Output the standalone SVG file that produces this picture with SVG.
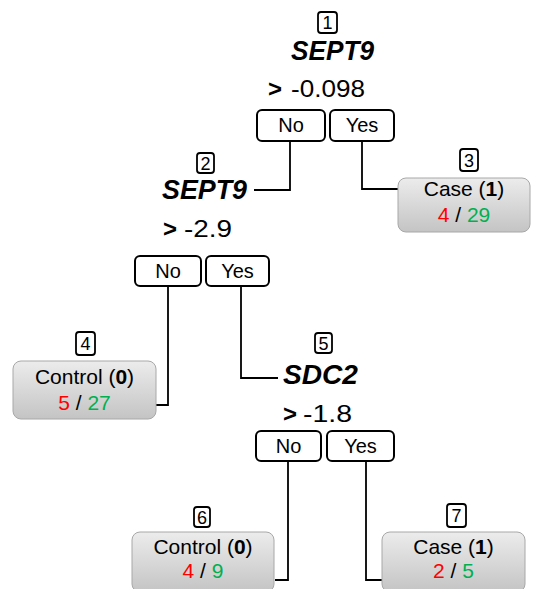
<svg xmlns="http://www.w3.org/2000/svg" width="534" height="589" viewBox="0 0 534 589">
<defs>
<linearGradient id="leafGrad" x1="0" y1="0" x2="0" y2="1">
<stop offset="0" stop-color="#ececec"/>
<stop offset="1" stop-color="#c4c4c4"/>
</linearGradient>
<style>
text{font-family:"Liberation Sans",Arial,sans-serif;fill:#000;}
.num{font-size:18px;text-anchor:middle;}
.numbox{fill:#fff;stroke:#000;stroke-width:1.8;}
.gene{font-size:28px;font-weight:bold;font-style:italic;}
.thr{font-size:24px;}
.gt{font-weight:bold;}
.btn{fill:#fff;stroke:#000;stroke-width:2;}
.btxt{font-size:20px;text-anchor:middle;}
.leaf{fill:url(#leafGrad);stroke:#a8a8a8;stroke-width:1;}
.ltxt{font-size:21px;text-anchor:middle;}
.red{fill:#ff0000;}
.green{fill:#00b050;}
.conn{fill:none;stroke:#000;stroke-width:1.8;}
</style>
</defs>
<rect width="534" height="589" fill="#fff"/>

<g id="connectors">
<path class="conn" d="M290,141 V190 H254"/>
<path class="conn" d="M362,141 V189 H398"/>
<path class="conn" d="M168,286 V405 H156"/>
<path class="conn" d="M241,286 V378 H278"/>
<path class="conn" d="M288,461 V580 H275"/>
<path class="conn" d="M366,461 V580 H382"/>
</g>

<g id="node1">
<rect class="numbox" x="318" y="12" width="19" height="21" rx="3"/>
<text class="num" x="327.5" y="29">1</text>
<text class="gene" x="291" y="60" textLength="83" lengthAdjust="spacingAndGlyphs">SEPT9</text>
<text class="thr" y="97"><tspan class="gt" x="268">&gt;</tspan><tspan x="291" textLength="74" lengthAdjust="spacingAndGlyphs">-0.098</tspan></text>
<rect class="btn" x="257" y="110" width="68" height="31" rx="5"/>
<text class="btxt" x="291" y="132">No</text>
<rect class="btn" x="330" y="110" width="64" height="31" rx="5"/>
<text class="btxt" x="362" y="132">Yes</text>
</g>

<g id="node2">
<rect class="numbox" x="197" y="153" width="17" height="20" rx="3"/>
<text class="num" x="205.5" y="169.5">2</text>
<text class="gene" x="162" y="199" textLength="85" lengthAdjust="spacingAndGlyphs">SEPT9</text>
<text class="thr" y="237"><tspan class="gt" x="163">&gt;</tspan><tspan x="184" textLength="48" lengthAdjust="spacingAndGlyphs">-2.9</tspan></text>
<rect class="btn" x="135" y="256" width="66" height="30" rx="5"/>
<text class="btxt" x="168" y="278">No</text>
<rect class="btn" x="206" y="256" width="63" height="30" rx="5"/>
<text class="btxt" x="237.5" y="278">Yes</text>
</g>

<g id="node3">
<rect class="numbox" x="460" y="149" width="18" height="22" rx="3" stroke-width="2.4"/>
<text class="num" x="469" y="166.5">3</text>
<rect class="leaf" x="398" y="178" width="132" height="54" rx="8"/>
<text class="ltxt" x="464" y="196">Case (<tspan font-weight="bold">1</tspan>)</text>
<text class="ltxt" x="464" y="222"><tspan class="red">4</tspan> / <tspan class="green">29</tspan></text>
</g>

<g id="node4">
<rect class="numbox" x="76" y="332" width="19" height="23" rx="3" stroke-width="2.4"/>
<text class="num" x="85.5" y="350">4</text>
<rect class="leaf" x="13" y="361" width="143" height="58" rx="8"/>
<text class="ltxt" x="84.5" y="384">Control (<tspan font-weight="bold">0</tspan>)</text>
<text class="ltxt" x="84.5" y="410"><tspan class="red">5</tspan> / <tspan class="green">27</tspan></text>
</g>

<g id="node5">
<rect class="numbox" x="315" y="333" width="17" height="20" rx="3"/>
<text class="num" x="323.5" y="349.5">5</text>
<text class="gene" x="283" y="384" textLength="75" lengthAdjust="spacingAndGlyphs">SDC2</text>
<text class="thr" y="422"><tspan class="gt" x="283">&gt;</tspan><tspan x="303" textLength="49" lengthAdjust="spacingAndGlyphs">-1.8</tspan></text>
<rect class="btn" x="256" y="431" width="65" height="30" rx="5"/>
<text class="btxt" x="288.5" y="453">No</text>
<rect class="btn" x="327" y="431" width="67" height="30" rx="5"/>
<text class="btxt" x="360.5" y="453">Yes</text>
</g>

<g id="node6">
<rect class="numbox" x="194" y="507" width="16" height="20" rx="3" stroke-width="2.4"/>
<text class="num" x="202" y="523.5">6</text>
<rect class="leaf" x="132" y="532" width="142" height="60" rx="8"/>
<text class="ltxt" x="203" y="554">Control (<tspan font-weight="bold">0</tspan>)</text>
<text class="ltxt" x="203" y="578"><tspan class="red">4</tspan> / <tspan class="green">9</tspan></text>
</g>

<g id="node7">
<rect class="numbox" x="447" y="504" width="19" height="23" rx="3" stroke-width="2.4"/>
<text class="num" x="456.5" y="522">7</text>
<rect class="leaf" x="382" y="532" width="143" height="60" rx="8"/>
<text class="ltxt" x="453.5" y="554">Case (<tspan font-weight="bold">1</tspan>)</text>
<text class="ltxt" x="453.5" y="578"><tspan class="red">2</tspan> / <tspan class="green">5</tspan></text>
</g>
</svg>
